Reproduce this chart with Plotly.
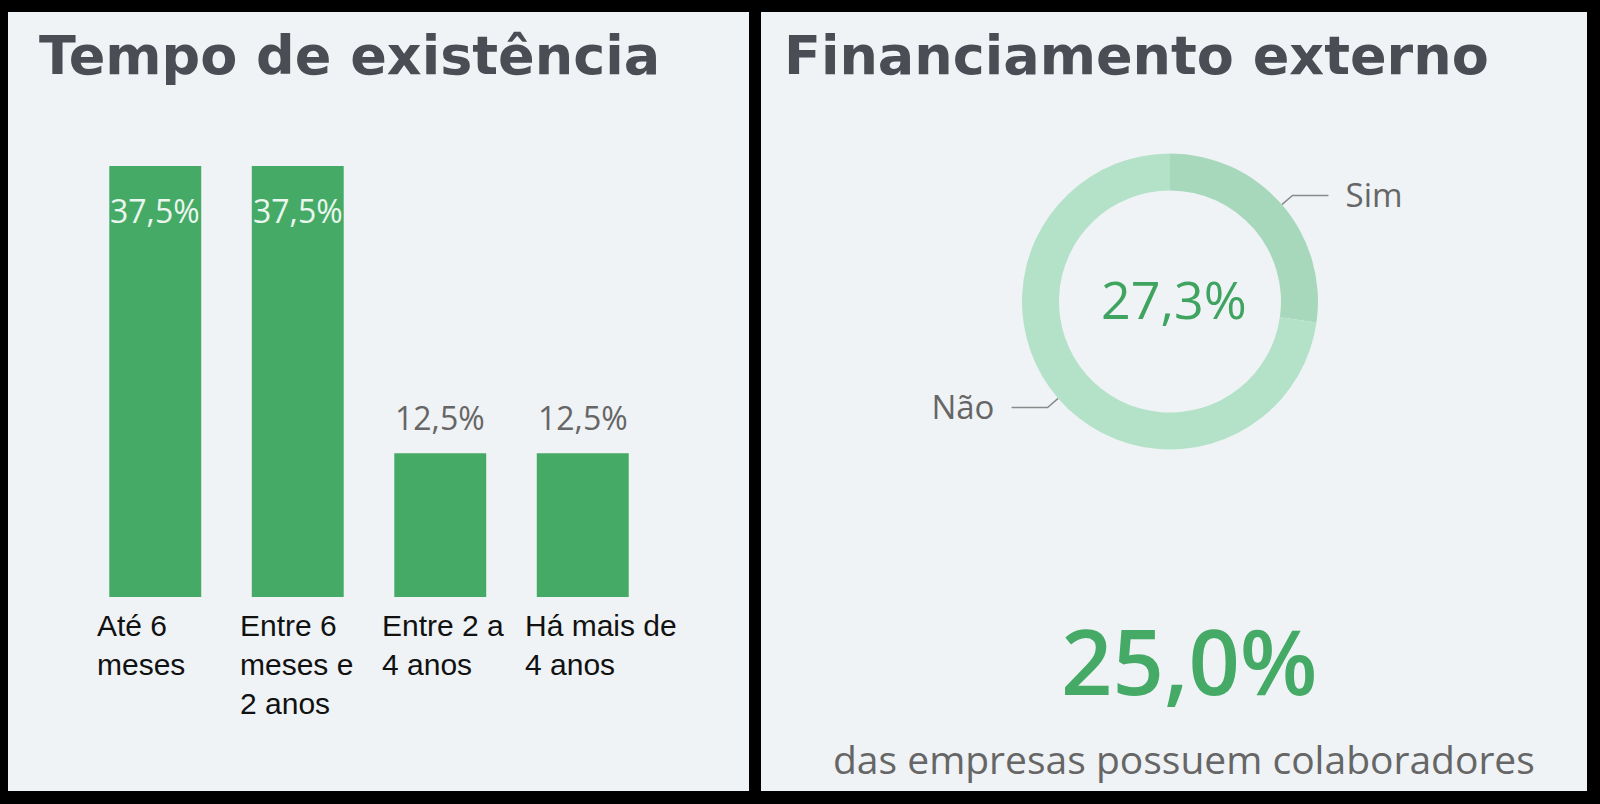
import math
import plotly.graph_objects as go

# ---------------- data ----------------
bar_categories = ["Até 6<br>meses", "Entre 6<br>meses e<br>2 anos", "Entre 2 a<br>4 anos", "Há mais de<br>4 anos"]
bar_values = [37.5, 37.5, 12.5, 12.5]          # % das empresas
donut_labels = ["Sim", "Não"]
donut_counts = [3, 8]                          # empresas com / sem financiamento externo
colaboradores_pct = 25.0                       # % das empresas que possuem colaboradores
title_left = "Tempo de existência"
title_right = "Financiamento externo"
caption_right = "das empresas possuem colaboradores"

# ---------------- style ----------------
W, H = 1600, 804
PANEL_BG = "#eff3f5"
BAR_COLOR = "#44aa66"
DONUT_COLORS = ["#a8d8bc", "#b4e2c8"]
TITLE_COLOR = "#4a4e54"
GRAY = "#666666"
GREEN_TEXT = "#3fa460"


def px_x(x):
    return x / W


def px_y(y):
    return 1 - y / H


def fmt_pct(v):
    return f"{v:.1f}".replace(".", ",") + "%"


fig = go.Figure()

# bars
cat_idx = list(range(len(bar_categories)))
fig.add_trace(go.Bar(
    x=cat_idx, y=bar_values, width=0.645,
    marker=dict(color=BAR_COLOR, line=dict(width=0)),
    hoverinfo="skip", xaxis="x", yaxis="y",
))

# donut
cx, cy, R = 1170, 301.5, 148
fig.add_trace(go.Pie(
    labels=donut_labels, values=donut_counts, hole=0.75, sort=False,
    direction="clockwise", rotation=0,
    marker=dict(colors=DONUT_COLORS, line=dict(width=0)),
    textinfo="none", hoverinfo="skip", showlegend=False,
    domain=dict(x=[px_x(cx - R), px_x(cx + R)], y=[px_y(cy + R), px_y(cy - R)]),
))

# leader lines + labels computed from donut data
total = sum(donut_counts)
cum = 0
for lab, v in zip(donut_labels, donut_counts):
    frac = (cum + v / 2) / total
    cum += v
    th = 2 * math.pi * frac
    s, c = math.sin(th), math.cos(th)
    x0, y0 = cx + R * s, cy - R * c
    x1, y1 = cx + (R + 14) * s, cy - (R + 14) * c
    side = 1 if s >= 0 else -1
    x2 = x1 + side * 36
    fig.add_trace(go.Scatter(
        x=[x0, x1, x2], y=[y0, y1, y1], mode="lines",
        line=dict(color="#8a8a8a", width=1.5),
        hoverinfo="skip", showlegend=False, xaxis="x2", yaxis="y2",
    ))
    fig.add_trace(go.Scatter(
        x=[x2], y=[y1 + 3], mode="text", text=["  " + lab if side > 0 else lab + "  "],
        textposition="middle right" if side > 0 else "middle left",
        textfont=dict(family="Open Sans", size=33, color=GRAY),
        hoverinfo="skip", showlegend=False, xaxis="x2", yaxis="y2",
    ))

annotations = []
# bar value labels
for i, v in zip(cat_idx, bar_values):
    inside = v > 20
    annotations.append(dict(
        x=i, y=v, xref="x", yref="y", text=fmt_pct(v), showarrow=False,
        xanchor="center",
        yanchor="top" if inside else "bottom", yshift=-21 if inside else 12,
        font=dict(family="Open Sans", size=32, color="#eaf6ee" if inside else GRAY),
    ))
# category labels
for i, lab in zip(cat_idx, bar_categories):
    annotations.append(dict(
        x=i, y=0, xref="x", yref="y", text=lab, showarrow=False,
        xanchor="left", yanchor="top", align="left", xshift=-60, yshift=-10,
        font=dict(family="Liberation Sans", size=30, color="#111111"),
    ))
# titles
annotations.append(dict(x=px_x(37), y=px_y(22), xref="paper", yref="paper", text=title_left,
                        showarrow=False, xanchor="left", yanchor="top",
                        font=dict(family="DejaVu Sans", size=54, color=TITLE_COLOR, weight="bold")))
annotations.append(dict(x=px_x(782), y=px_y(22), xref="paper", yref="paper", text=title_right,
                        showarrow=False, xanchor="left", yanchor="top",
                        font=dict(family="DejaVu Sans", size=54, color=TITLE_COLOR, weight="bold")))
# donut centre text
annotations.append(dict(x=px_x(cx + 4), y=px_y(cy - 3), xref="paper", yref="paper",
                        text=fmt_pct(100 * donut_counts[0] / total), showarrow=False,
                        xanchor="center", yanchor="middle",
                        font=dict(family="Open Sans", size=52, color=GREEN_TEXT)))
# KPI
annotations.append(dict(x=px_x(1189), y=px_y(660), xref="paper", yref="paper",
                        text=fmt_pct(colaboradores_pct), showarrow=False,
                        xanchor="center", yanchor="middle",
                        font=dict(family="Open Sans", size=90, color=BAR_COLOR, weight=600)))
annotations.append(dict(x=px_x(1184), y=px_y(758), xref="paper", yref="paper",
                        text=caption_right, showarrow=False,
                        xanchor="center", yanchor="middle",
                        font=dict(family="Open Sans", size=39, color=GRAY)))

shapes = [
    dict(type="rect", xref="paper", yref="paper", x0=px_x(8), x1=px_x(749), y0=px_y(791), y1=px_y(12),
         fillcolor=PANEL_BG, line=dict(width=0), layer="below"),
    dict(type="rect", xref="paper", yref="paper", x0=px_x(761), x1=px_x(1587), y0=px_y(791), y1=px_y(12),
         fillcolor=PANEL_BG, line=dict(width=0), layer="below"),
]

fig.update_layout(
    width=W, height=H, margin=dict(l=0, r=0, t=0, b=0),
    paper_bgcolor="#000000", plot_bgcolor="rgba(0,0,0,0)",
    showlegend=False,
    xaxis=dict(domain=[px_x(84), px_x(654)], range=[-0.5, 3.5], visible=False, fixedrange=True),
    yaxis=dict(domain=[px_y(597), px_y(166)], range=[0, 37.5], visible=False, fixedrange=True),
    xaxis2=dict(domain=[0, 1], range=[0, W], visible=False, anchor="y2", fixedrange=True),
    yaxis2=dict(domain=[0, 1], range=[H, 0], visible=False, anchor="x2", fixedrange=True),
    annotations=annotations, shapes=shapes,
)

fig.write_html("out.html", config={"displayModeBar": False})
